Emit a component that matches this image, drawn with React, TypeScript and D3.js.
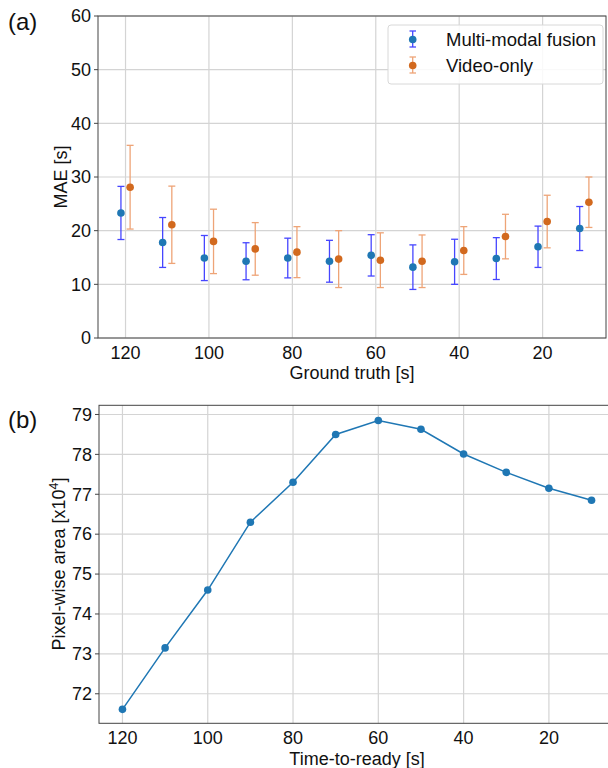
import React from 'react'
import { scaleLinear, line } from 'd3'

// ground truth / time-to-ready positions
const seconds = [120, 110, 100, 90, 80, 70, 60, 50, 40, 30, 20, 10]

// (a) MAE per ground truth
const fusionMae = [23.3, 17.8, 14.9, 14.3, 14.9, 14.3, 15.4, 13.2, 14.2, 14.8, 17.0, 20.4]
const fusionErr = [4.95, 4.65, 4.2, 3.45, 3.7, 3.9, 3.85, 4.15, 4.2, 3.9, 3.85, 4.1]
const videoMae = [28.1, 21.1, 18.0, 16.6, 16.0, 14.7, 14.5, 14.3, 16.3, 18.9, 21.7, 25.3]
const videoErr = [7.8, 7.2, 6.0, 4.9, 4.75, 5.3, 5.1, 4.9, 4.45, 4.15, 4.9, 4.7]

// (b) pixel-wise area [x10^4]
const areaValues = [71.61, 73.15, 74.6, 76.3, 77.3, 78.5, 78.85, 78.63, 78.01, 77.55, 77.15, 76.85]

const xTicks = [120, 100, 80, 60, 40, 20]
const yTicksA = [0, 10, 20, 30, 40, 50, 60]
const yTicksB = [72, 73, 74, 75, 76, 77, 78, 79]

const font = '"Liberation Sans", Arial, sans-serif'
const grid = '#d4d4d4'
const spine = '#444'
const fs = 18

export default function App() {
  // panel (a)
  const xa = scaleLinear().domain([126.6, 4.8]).range([98, 606])
  const ya = scaleLinear().domain([0, 60]).range([338, 16])
  // panel (b)
  const xb = scaleLinear().domain([125.5, 4.5]).range([99, 615])
  const yb = scaleLinear().domain([71.26, 79.23]).range([723.3, 405.3])

  const areaLine = line<number>().x((d, i) => xb(seconds[i])).y(d => yb(d))

  const errBar = (x: number, v: number, e: number, color: string, key: string) => (
    <g key={key} stroke={color} strokeWidth={1.3}>
      <line x1={x} x2={x} y1={ya(v - e)} y2={ya(v + e)} />
      <line x1={x - 3.5} x2={x + 3.5} y1={ya(v - e)} y2={ya(v - e)} />
      <line x1={x - 3.5} x2={x + 3.5} y1={ya(v + e)} y2={ya(v + e)} />
    </g>
  )

  return (
    <svg width={608} height={768} style={{ position: 'absolute', left: 0, top: 0 }} fontFamily={font}>
      <rect width={608} height={768} fill="white" />

      {/* ---------- (a) ---------- */}
      <text x={8} y={30} fontSize={24} fill="#111">(a)</text>
      {xTicks.map(t => (
        <line key={'gxa' + t} x1={xa(t)} x2={xa(t)} y1={ya(0)} y2={ya(60)} stroke={grid} strokeWidth={1.2} />
      ))}
      {yTicksA.map(t => (
        <g key={'gya' + t}>
          <line x1={98} x2={606} y1={ya(t)} y2={ya(t)} stroke={grid} strokeWidth={1.2} />
          <line x1={94} x2={98} y1={ya(t)} y2={ya(t)} stroke={spine} />
          <text x={91} y={ya(t)} dy="0.35em" textAnchor="end" fontSize={fs} fill="#111">{t}</text>
        </g>
      ))}
      {xTicks.map(t => (
        <text key={'xla' + t} x={xa(t)} y={359} textAnchor="middle" fontSize={fs} fill="#111">{t}</text>
      ))}
      <text x={352} y={379} textAnchor="middle" fontSize={fs} fill="#111">Ground truth [s]</text>
      <text transform={`translate(67,${ya(30)}) rotate(-90)`} textAnchor="middle" fontSize={fs} fill="#111">MAE [s]</text>

      {seconds.map((s, i) => errBar(xa(s + 1.1), fusionMae[i], fusionErr[i], '#4646ff', 'fe' + s))}
      {seconds.map((s, i) => errBar(xa(s - 1.1), videoMae[i], videoErr[i], '#eea477', 've' + s))}
      {seconds.map((s, i) => (
        <circle key={'fm' + s} cx={xa(s + 1.1)} cy={ya(fusionMae[i])} r={3.8} fill="#1f77b4" />
      ))}
      {seconds.map((s, i) => (
        <circle key={'vm' + s} cx={xa(s - 1.1)} cy={ya(videoMae[i])} r={3.8} fill="#d2691e" />
      ))}
      <rect x={98} y={16} width={508} height={322} fill="none" stroke={spine} strokeWidth={1} />

      {/* legend */}
      <rect x={388} y={25} width={215} height={59} rx={3} fill="white" fillOpacity={0.85} stroke="#d8d8d8" />
      <g stroke="#4646ff" strokeWidth={1.3}>
        <line x1={412.7} x2={412.7} y1={31} y2={47} />
        <line x1={409.5} x2={416} y1={31} y2={31} />
        <line x1={409.5} x2={416} y1={47} y2={47} />
      </g>
      <circle cx={412.7} cy={39.5} r={3.8} fill="#1f77b4" />
      <text x={446} y={39.5} dy="0.35em" fontSize={18.5} fill="#111">Multi-modal fusion</text>
      <g stroke="#eea477" strokeWidth={1.3}>
        <line x1={412.7} x2={412.7} y1={57} y2={73} />
        <line x1={409.5} x2={416} y1={57} y2={57} />
        <line x1={409.5} x2={416} y1={73} y2={73} />
      </g>
      <circle cx={412.7} cy={65.5} r={3.8} fill="#d2691e" />
      <text x={446} y={65.5} dy="0.35em" fontSize={18.5} fill="#111">Video-only</text>

      {/* ---------- (b) ---------- */}
      <text x={8} y={428} fontSize={24} fill="#111">(b)</text>
      {xTicks.map(t => (
        <line key={'gxb' + t} x1={xb(t)} x2={xb(t)} y1={723.3} y2={405.3} stroke={grid} strokeWidth={1.2} />
      ))}
      {yTicksB.map(t => (
        <g key={'gyb' + t}>
          <line x1={99} x2={615} y1={yb(t)} y2={yb(t)} stroke={grid} strokeWidth={1.2} />
          <line x1={95} x2={99} y1={yb(t)} y2={yb(t)} stroke={spine} />
          <text x={92} y={yb(t)} dy="0.35em" textAnchor="end" fontSize={fs} fill="#111">{t}</text>
        </g>
      ))}
      {xTicks.map(t => (
        <text key={'xlb' + t} x={xb(t)} y={744} textAnchor="middle" fontSize={fs} fill="#111">{t}</text>
      ))}
      <text x={357} y={765} textAnchor="middle" fontSize={fs} fill="#111">Time-to-ready [s]</text>
      <text transform={`translate(65,${yb(75.25)}) rotate(-90)`} textAnchor="middle" fontSize={fs} fill="#111">
        Pixel-wise area [x10<tspan dy={-7} fontSize={12.5}>4</tspan><tspan dy={7}>]</tspan>
      </text>
      <path d={areaLine(areaValues) ?? ''} fill="none" stroke="#1f77b4" strokeWidth={1.5} />
      {areaValues.map((v, i) => (
        <circle key={'am' + i} cx={xb(seconds[i])} cy={yb(v)} r={3.8} fill="#1f77b4" />
      ))}
      <rect x={99} y={405.3} width={516} height={318} fill="none" stroke={spine} strokeWidth={1} />
    </svg>
  )
}
